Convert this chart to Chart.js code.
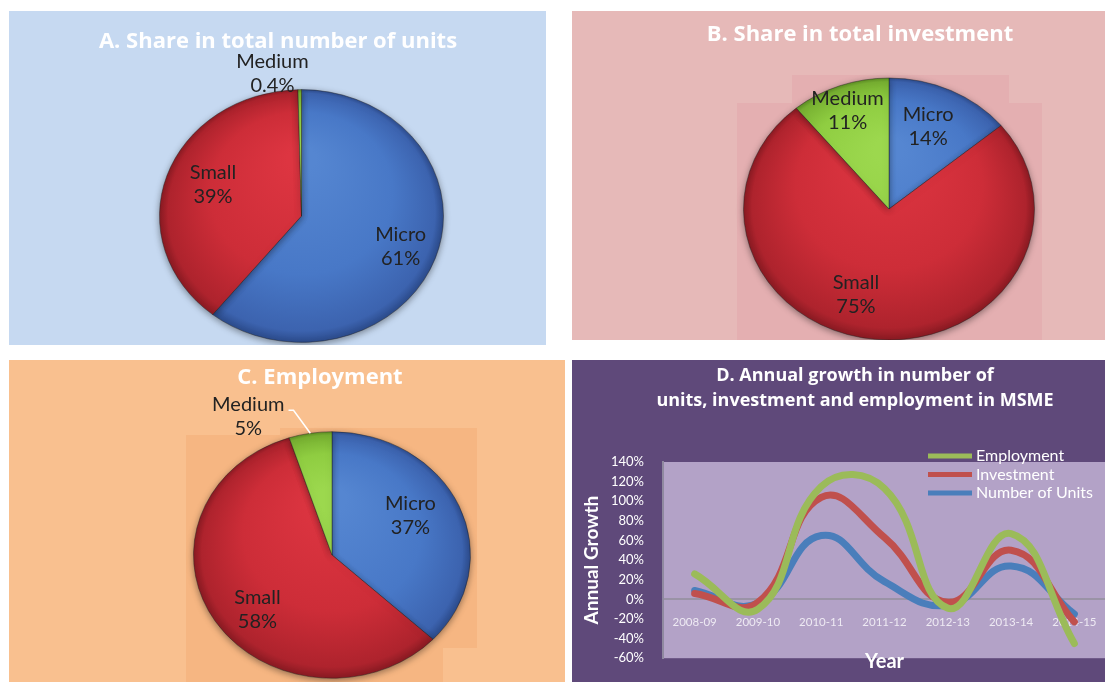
<!DOCTYPE html>
<html>
<head>
<meta charset="utf-8">
<script src="https://cdn.jsdelivr.net/npm/chart.js@4.4.1/dist/chart.umd.min.js"></script>
<style>
  html, body { margin: 0; padding: 0; background: #fff; width: 1105px; height: 682px; overflow: hidden; }
  .panel { position: absolute; overflow: hidden; }
  .panel canvas { position: absolute; left: 0; top: 0; }
  .shade { position: absolute; }
</style>
</head>
<body>
<div class="panel" style="left:9px;top:11px;width:537px;height:334px;background:#c6d9f1">
  <canvas id="chartA" width="537" height="360"></canvas>
</div>
<div class="panel" style="left:572px;top:11px;width:533px;height:329px;background:#e6b9b8">
  <div class="shade" style="left:165px;top:92px;width:305px;height:237px;background:#e4afb1"></div>
  <div class="shade" style="left:220px;top:64px;width:217px;height:145px;background:#e4afb1"></div>
  <canvas id="chartB" width="533" height="360"></canvas>
</div>
<div class="panel" style="left:9px;top:360px;width:556px;height:322px;background:#f9c08f">
  <div class="shade" style="left:177px;top:75px;width:257px;height:247px;background:#f6b682"></div>
  <div class="shade" style="left:271px;top:68px;width:197px;height:220px;background:#f6b682"></div>
  <canvas id="chartC" width="556" height="350"></canvas>
</div>
<div class="panel" style="left:572px;top:360px;width:533px;height:322px;background:#5f497a">
  <canvas id="chartD" width="545" height="325"></canvas>
</div>

<script>
// share of micro / small / medium enterprises (%)
const sizeClasses = ['Micro', 'Small', 'Medium'];
const unitsShare = [61, 39, 0.4];
const investmentShare = [14, 75, 11];
const employmentShare = [37, 58, 5];

// annual growth (%)
const years = ['2008-09', '2009-10', '2010-11', '2011-12', '2012-13', '2013-14', '2014-15'];
const employmentGrowth = [26, -10, 115, 113, -9, 67, -45];
const investmentGrowth = [6, -3, 104, 63, -3, 50, -23];
const unitsGrowth = [9, -4, 65, 18, -6, 34, -15];
const growthMin = -60;
const growthMax = 140;
const growthStep = 20;

Chart.defaults.font.family = 'Lato';

const shades = {
    Micro: ['#5586d1', '#4878c7', '#3c63af', '#2b4a8a'],
    Small: ['#dd3541', '#cd2d38', '#ae232d', '#881a22'],
    Medium: ['#9cd84e', '#8fcd41', '#77b031', '#5a8a22']
};

function sliceFill(c) {
    const stops = shades[sizeClasses[c.dataIndex]];
    const area = c.chart.chartArea;
    if (!area || !stops) return stops ? stops[1] : '#888';
    const cx = (area.left + area.right) / 2;
    const cy = (area.top + area.bottom) / 2;
    const r = Math.min(area.right - area.left, area.bottom - area.top) / 2;
    const g = c.chart.ctx.createRadialGradient(cx, cy - r * 0.45, r * 0.1, cx, cy, r);
    g.addColorStop(0, stops[0]);
    g.addColorStop(0.6, stops[1]);
    g.addColorStop(0.93, stops[2]);
    g.addColorStop(1, stops[3]);
    return g;
}

const panelTitle = {
    id: 'panelTitle',
    afterDraw(chart, args, o) {
        const ctx = chart.ctx;
        ctx.save();
        ctx.fillStyle = '#fff';
        ctx.font = 'bold ' + o.size + 'px "Open Sans"';
        ctx.textAlign = 'center';
        ctx.textBaseline = 'middle';
        o.lines.forEach((t, i) => ctx.fillText(t, o.x, o.y + i * (o.gap || 0)));
        ctx.restore();
    }
};

// squashes the pie into the tilted ellipse and writes the slice labels
const tiltedPie = {
    id: 'tiltedPie',
    beforeDatasetsDraw(chart, args, o) {
        const arc = chart.getDatasetMeta(0).data[0];
        const ctx = chart.ctx;
        ctx.save();
        ctx.translate(arc.x, arc.y);
        ctx.scale(1, o.ratio);
        ctx.translate(-arc.x, -arc.y);
        ctx.shadowColor = 'rgba(0,0,0,0.4)';
        ctx.shadowBlur = 7;
        ctx.shadowOffsetY = 2;
    },
    afterDatasetsDraw(chart, args, o) {
        const ctx = chart.ctx;
        ctx.restore();
        const values = chart.data.datasets[0].data;
        ctx.save();
        ctx.font = '20px Lato';
        ctx.textAlign = 'center';
        ctx.textBaseline = 'middle';
        chart.getDatasetMeta(0).data.forEach((arc, i) => {
            const mid = (arc.startAngle + arc.endAngle) / 2;
            const r = arc.outerRadius * o.reach[i];
            const x = arc.x + Math.cos(mid) * r + o.shift[i][0];
            const y = arc.y + Math.sin(mid) * r * o.ratio + o.shift[i][1];
            ctx.fillStyle = '#222';
            ctx.fillText(chart.data.labels[i], x, y - 12);
            ctx.fillText(values[i] + '%', x, y + 12);
            if (o.leader && o.leader[i]) {
                const w = ctx.measureText(chart.data.labels[i]).width;
                const ex = arc.x + Math.cos(mid) * arc.outerRadius;
                const ey = arc.y + Math.sin(mid) * arc.outerRadius * o.ratio;
                ctx.strokeStyle = '#fff';
                ctx.lineWidth = 1.5;
                ctx.beginPath();
                ctx.moveTo(x + w / 2 + 4, y - 6);
                ctx.lineTo(x + w / 2 + 9, y - 6);
                ctx.lineTo(ex, ey);
                ctx.stroke();
            }
        });
        ctx.restore();
    }
};

function makePie(id, values, title, padding, labelOpts) {
    return new Chart(document.getElementById(id), {
        type: 'pie',
        data: {
            labels: sizeClasses,
            datasets: [{
                data: values,
                backgroundColor: sliceFill,
                borderColor: 'rgba(30,30,30,0.45)',
                borderWidth: 1
            }]
        },
        options: {
            responsive: false,
            animation: false,
            layout: { padding: padding },
            plugins: {
                legend: { display: false },
                tooltip: { enabled: false },
                panelTitle: title,
                tiltedPie: labelOpts
            }
        },
        plugins: [tiltedPie, panelTitle]
    });
}

makePie('chartA', unitsShare,
    { lines: ['A. Share in total number of units'], x: 269, y: 31, size: 22 },
    { left: 150, right: 102, top: 62.5, bottom: 12.5 },
    { ratio: 0.89, reach: [0.74, 0.68, 1.13], shift: [[0, 0], [3, -4], [-27, 0]] });

makePie('chartB', investmentShare,
    { lines: ['B. Share in total investment'], x: 288, y: 24, size: 22 },
    { left: 171, right: 70, top: 52, bottom: 16 },
    { ratio: 0.9, reach: [0.68, 0.66, 0.8], shift: [[-3, -2], [-24, 0], [-2, 0]] });

makePie('chartC', employmentShare,
    { lines: ['C. Employment'], x: 311, y: 18, size: 22 },
    { left: 184, right: 94, top: 56, bottom: 16 },
    { ratio: 0.89, reach: [0.68, 0.68, 1.14], shift: [[-8, -6], [5, 10], [-59, 0]], leader: [false, false, true] });

// panel D
const plotFill = {
    id: 'plotFill',
    beforeDraw(chart) {
        const a = chart.chartArea;
        chart.ctx.save();
        chart.ctx.fillStyle = '#b3a2c7';
        chart.ctx.fillRect(a.left, a.top, a.right - a.left, a.bottom - a.top);
        chart.ctx.restore();
    }
};

const seriesKey = {
    id: 'seriesKey',
    afterDraw(chart, args, o) {
        const ctx = chart.ctx;
        ctx.save();
        ctx.font = '16px Lato';
        ctx.textBaseline = 'middle';
        chart.data.datasets.forEach((ds, i) => {
            const y = o.top + i * o.gap;
            ctx.strokeStyle = ds.borderColor;
            ctx.lineWidth = 5;
            ctx.beginPath();
            ctx.moveTo(o.left, y);
            ctx.lineTo(o.left + o.len, y);
            ctx.stroke();
            ctx.fillStyle = '#fff';
            ctx.fillText(ds.label, o.left + o.len + 4, y);
        });
        ctx.restore();
    }
};

new Chart(document.getElementById('chartD'), {
    type: 'line',
    data: {
        labels: years,
        datasets: [
            { label: 'Employment', data: employmentGrowth, borderColor: '#9bbb59' },
            { label: 'Investment', data: investmentGrowth, borderColor: '#c0504d' },
            { label: 'Number of Units', data: unitsGrowth, borderColor: '#4a7ebb' }
        ]
    },
    options: {
        responsive: false,
        animation: false,
        elements: {
            line: { borderWidth: 7, tension: 0.45, borderCapStyle: 'round', borderJoinStyle: 'round' },
            point: { radius: 0 }
        },
        layout: { padding: { left: 0, right: 11, top: 102, bottom: 0 } },
        scales: {
            x: {
                position: { y: 0 },
                offset: true,
                grid: { display: false, drawTicks: false },
                border: { display: true, color: '#9a93a6', width: 2 },
                ticks: { color: '#eeeaf3', font: { size: 11.5 }, padding: 16, maxRotation: 0, autoSkip: false }
            },
            x2: {
                type: 'category',
                axis: 'x',
                position: 'bottom',
                grid: { display: false, drawTicks: false },
                border: { display: false },
                ticks: { display: false },
                title: { display: true, text: 'Year', color: '#fff', font: { size: 20, weight: 'bold' }, padding: { top: 0, bottom: 0 } },
                afterFit: s => { s.height = 15; }
            },
            y: {
                min: growthMin,
                max: growthMax,
                grid: { display: false, drawTicks: false },
                border: { display: true, color: '#9089a0', width: 2 },
                ticks: { stepSize: growthStep, color: '#fff', font: { size: 13 }, padding: 19, callback: v => v + '%' },
                title: { display: true, text: 'Annual Growth', color: '#fff', font: { size: 19, weight: 'bold' }, padding: { top: 8, bottom: 0 } },
                afterFit: s => { s.width = 91; }
            }
        },
        plugins: {
            legend: { display: false },
            tooltip: { enabled: false },
            panelTitle: { lines: ['D. Annual growth in number of', 'units, investment and employment in MSME'], x: 283, y: 16, gap: 25, size: 18 },
            seriesKey: { left: 356, len: 44, top: 96, gap: 18.5 }
        }
    },
    plugins: [plotFill, seriesKey, panelTitle]
});
</script>
</body>
</html>
